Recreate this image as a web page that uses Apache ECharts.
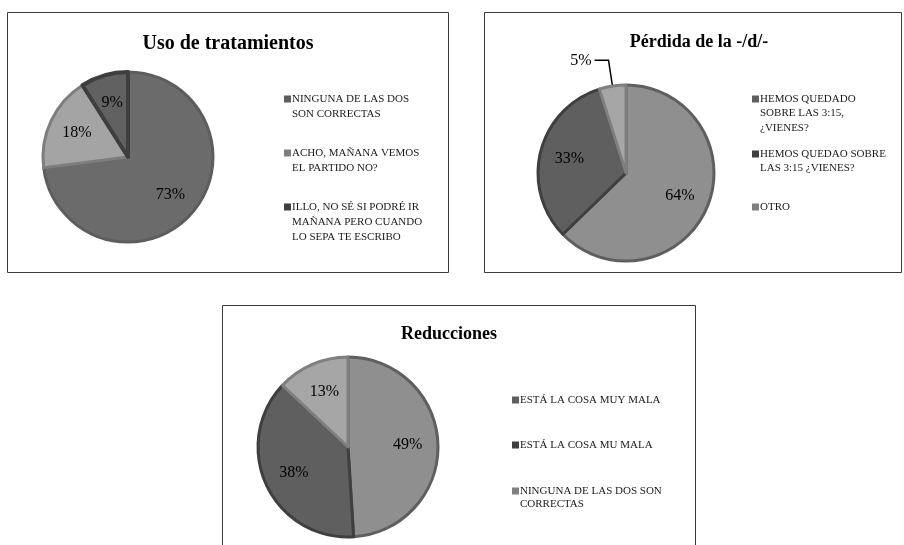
<!DOCTYPE html>
<html>
<head>
<meta charset="utf-8">
<script src="https://cdn.jsdelivr.net/npm/echarts@6/dist/echarts.min.js"></script>
<style>
html,body{margin:0;padding:0;background:#ffffff;}
#chart{width:904px;height:545px;}
</style>
</head>
<body>
<div id="chart"></div>
<script>
// ---------- DATA ----------
const tratamientosTitle = 'Uso de tratamientos';
const tratamientosCategories = [
  'NINGUNA DE LAS DOS SON CORRECTAS',
  'ACHO, MAÑANA VEMOS EL PARTIDO NO?',
  'ILLO, NO SÉ SI PODRÉ IR MAÑANA PERO CUANDO LO SEPA TE ESCRIBO'
];
const tratamientosValues = [73, 18, 9];

const perdidaTitle = 'Pérdida de la -/d/-';
const perdidaCategories = [
  'HEMOS QUEDADO SOBRE LAS 3:15, ¿VIENES?',
  'HEMOS QUEDAO SOBRE LAS 3:15 ¿VIENES?',
  'OTRO'
];
const perdidaValues = [64, 33, 5];

const reduccionesTitle = 'Reducciones';
const reduccionesCategories = [
  'ESTÁ LA COSA MUY MALA',
  'ESTÁ LA COSA MU MALA',
  'NINGUNA DE LAS DOS SON CORRECTAS'
];
const reduccionesValues = [49, 38, 13];

// ---------- LAYOUT / STYLE ----------
const FONT = 'Liberation Serif';
const panels = [
  {
    title: tratamientosTitle, cats: tratamientosCategories, vals: tratamientosValues,
    box: [7.5, 12.5, 441, 260], titlePos: [228, 43.5], titleSize: 20,
    center: [128, 157], radius: 85,
    fills: ['#6b6b6b', '#a4a4a4', '#616161'],
    borders: ['#5d5d5d', '#7e7e7e', '#3e3e3e'],
    borderWidths: [3, 3, 4],
    legendX: 284, legendFirstLine: [99, 153, 207], legendLines: [2, 2, 3], lineH: 15, wrap: 139,
    outside: [false, false, false]
  },
  {
    title: perdidaTitle, cats: perdidaCategories, vals: perdidaValues,
    box: [484.5, 12.5, 417, 260], titlePos: [699, 42], titleSize: 18,
    center: [626, 173], radius: 88,
    fills: ['#8f8f8f', '#5f5f5f', '#a6a6a6'],
    borders: ['#5f5f5f', '#3f3f3f', '#7f7f7f'],
    borderWidths: [3, 3, 3],
    legendX: 752, legendFirstLine: [99, 154, 207], legendLines: [3, 2, 1], lineH: 14.5, wrap: 130,
    outside: [false, false, true]
  },
  {
    title: reduccionesTitle, cats: reduccionesCategories, vals: reduccionesValues,
    box: [222.5, 305.5, 473, 260], titlePos: [449, 334], titleSize: 18,
    center: [348, 447], radius: 90,
    fills: ['#8f8f8f', '#5f5f5f', '#a6a6a6'],
    borders: ['#5f5f5f', '#3f3f3f', '#7f7f7f'],
    borderWidths: [3, 3, 3],
    legendX: 512, legendFirstLine: [400, 445, 491], legendLines: [1, 1, 2], lineH: 13, wrap: 160,
    outside: [false, false, false]
  }
];

function iconPath(h, L) {
  const y0 = (L - 7) / 2;
  return 'path://M0 0h0.01v0.01h-0.01z' +
         'M6.99 ' + (h - 0.01) + 'h0.01v0.01h-0.01z' +
         'M0 ' + y0 + 'h7v7h-7z';
}

const titleOpts = [];
const legendOpts = [];
const seriesOpts = [];
const graphicOpts = [];

panels.forEach(function (p) {
  graphicOpts.push({
    type: 'rect', silent: true,
    shape: { x: p.box[0], y: p.box[1], width: p.box[2], height: p.box[3] },
    style: { fill: 'none', stroke: '#3c3c3c', lineWidth: 1 }
  });

  titleOpts.push({
    text: p.title, left: p.titlePos[0], top: p.titlePos[1],
    textAlign: 'center', textVerticalAlign: 'middle', padding: 0,
    textStyle: { fontFamily: FONT, fontWeight: 'bold', fontSize: p.titleSize, color: '#000' }
  });

  p.cats.forEach(function (name, i) {
    const n = p.legendLines[i];
    const h = n * p.lineH;
    legendOpts.push({
      orient: 'vertical', left: p.legendX, top: p.legendFirstLine[i] - p.lineH / 2,
      padding: 0, itemWidth: 7, itemHeight: h,
      itemStyle: { borderWidth: 0 },
      textStyle: {
        fontFamily: FONT, fontSize: 11, color: '#1a1a1a', lineHeight: p.lineH,
        width: p.wrap, overflow: 'break', padding: [0, 0, 0, -4]
      },
      data: [{ name: name, icon: iconPath(h, p.lineH), itemStyle: { color: p.borders[i] } }]
    });
  });

  // slices
  seriesOpts.push({
    type: 'pie', center: p.center, radius: [0, p.radius],
    startAngle: 90, clockwise: true, avoidLabelOverlap: false,
    emphasis: { scale: false },
    label: { show: false }, labelLine: { show: false },
    data: p.cats.map(function (name, i) {
      const d = {
        name: name, value: p.vals[i],
        itemStyle: { color: p.fills[i], borderColor: p.borders[i], borderWidth: p.borderWidths[i] }
      };
      if (p.outside[i]) {
        d.label = {
          show: true, position: 'outside', distanceToLabelLine: 3,
          formatter: function (q) { return q.value + '%'; },
          fontFamily: FONT, fontSize: 16, color: '#000'
        };
        d.labelLine = { show: true, length: 26, length2: 14, lineStyle: { color: '#000', width: 1.5 } };
      }
      return d;
    })
  });

  // inside value labels
  seriesOpts.push({
    type: 'pie', center: p.center, radius: [p.radius * 0.26, p.radius],
    startAngle: 90, clockwise: true, avoidLabelOverlap: false, silent: true,
    emphasis: { disabled: true },
    itemStyle: { color: 'rgba(0,0,0,0)', borderWidth: 0 },
    label: {
      show: true, position: 'inside',
      formatter: function (q) { return q.value + '%'; },
      fontFamily: FONT, fontSize: 16, color: '#000'
    },
    labelLine: { show: false },
    data: p.cats.map(function (name, i) {
      const d = { name: name, value: p.vals[i] };
      if (p.outside[i]) d.label = { show: false };
      return d;
    })
  });
});

const chart = echarts.init(document.getElementById('chart'));
chart.setOption({
  backgroundColor: '#ffffff',
  animation: false,
  title: titleOpts,
  legend: legendOpts,
  series: seriesOpts,
  graphic: graphicOpts
});
</script>
</body>
</html>
